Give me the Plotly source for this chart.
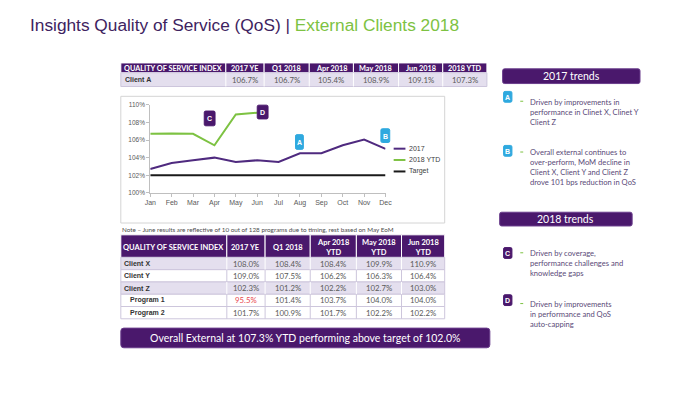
import plotly.graph_objects as go

# ---------------- data ----------------
months = ["Jan", "Feb", "Mar", "Apr", "May", "Jun", "Jul", "Aug", "Sep", "Oct", "Nov", "Dec"]
months_2018 = ["Jan", "Feb", "Mar", "Apr", "May", "Jun"]
qos_2017 = [102.7, 103.4, 103.7, 104.0, 103.5, 103.7, 103.5, 104.5, 104.5, 105.4, 106.05, 105.0]
qos_2018_ytd = [106.7, 106.75, 106.7, 105.4, 108.9, 109.1]
target = [102.0, 102.0, 102.0, 102.0, 102.0, 102.0, 102.0, 102.0, 102.0, 102.0, 102.0, 102.0]
y_ticks = [100, 102, 104, 106, 108, 110]
y_tick_labels = ["100%", "102%", "104%", "106%", "108%", "110%"]

top_headers = ["QUALITY OF SERVICE INDEX", "2017 YE", "Q1 2018", "Apr 2018", "May 2018", "Jun 2018", "2018 YTD"]
top_label = "Client A"
top_values = [106.7, 106.7, 105.4, 108.9, 109.1, 107.3]

low_headers = ["QUALITY OF SERVICE INDEX", "2017 YE", "Q1 2018", "Apr 2018<br>YTD", "May 2018<br>YTD", "Jun 2018<br>YTD"]
low_labels = ["Client X", "Client Y", "Client Z", "Program 1", "Program 2"]
client_x = [108.0, 108.4, 108.4, 109.9, 110.9]
client_y = [109.0, 107.5, 106.2, 106.3, 106.4]
client_z = [102.3, 101.2, 102.2, 102.7, 103.0]
program_1 = [95.5, 101.4, 103.7, 104.0, 104.0]
program_2 = [101.7, 100.9, 101.7, 102.2, 102.2]
low_values = [client_x, client_y, client_z, program_1, program_2]

title_left = "Insights Quality of Service (QoS) | "
title_right = "External Clients 2018"
note_text = "Note \u2013 June results are reflective of 10 out of 128 programs due to timing, rest based on May EoM"
banner_text = "Overall External at 107.3% YTD performing above target of 102.0%"
trend_2017 = "2017 trends"
trend_2018 = "2018 trends"
text_a = "Driven by improvements in<br>performance in Clinet X, Clinet Y<br>Client Z"
text_b = "Overall external continues to<br>over-perform, MoM decline in<br>Client X, Client Y and Client Z<br>drove 101 bps reduction in QoS"
text_c = "Driven by coverage,<br>performance challenges and<br>knowledge gaps"
text_d = "Driven by improvements<br>in performance and QoS<br>auto-capping"

# ---------------- style ----------------
W, H = 700, 393
PURPLE = "#4a186c"
LINE_PURPLE = "#4f2a7f"
GREEN = "#7dc242"
CYAN = "#2fa9df"
LAV = "#e4dfee"
GRID = "#cdc6dc"
TXT = "#595959"
BODY = "#5a4a78"
CAL = "Lato, 'Open Sans', sans-serif"
ARIAL = "'Liberation Sans', Arial, sans-serif"


def px(x):
    return x / W


def py(y):
    return 1 - y / H


shapes = []
annotations = []


def rect(x0, y0, x1, y1, fill, line=None, lw=1):
    shapes.append(dict(type="rect", xref="paper", yref="paper",
                       x0=px(x0), x1=px(x1), y0=py(y1), y1=py(y0),
                       fillcolor=fill, line=dict(color=line or fill, width=lw if line else 0),
                       layer="below"))


def rrect(x0, y0, x1, y1, r, fill, line=None, layer="below"):
    def P(x, y):
        return f"{px(x)},{py(y)}"
    path = (f"M {P(x0 + r, y0)} L {P(x1 - r, y0)} Q {P(x1, y0)} {P(x1, y0 + r)} "
            f"L {P(x1, y1 - r)} Q {P(x1, y1)} {P(x1 - r, y1)} L {P(x0 + r, y1)} "
            f"Q {P(x0, y1)} {P(x0, y1 - r)} L {P(x0, y0 + r)} Q {P(x0, y0)} {P(x0 + r, y0)} Z")
    shapes.append(dict(type="path", xref="paper", yref="paper", path=path,
                       fillcolor=fill, line=dict(color=line or fill, width=1), layer=layer))


def text(x, y, s, size, color, family=CAL, xanchor="center", yanchor="middle", align="center"):
    annotations.append(dict(x=px(x), y=py(y), xref="paper", yref="paper", text=s,
                            showarrow=False, xanchor=xanchor, yanchor=yanchor, align=align,
                            font=dict(size=size, color=color, family=family)))


def hline(x0, x1, y, color, width):
    shapes.append(dict(type="line", xref="paper", yref="paper", x0=px(x0), x1=px(x1),
                       y0=py(y), y1=py(y), line=dict(color=color, width=width)))


def letter_box(x0, y0, x1, y1, letter, fill, layer="above"):
    rrect(x0, y0, x1, y1, 1.5, fill, line=fill, layer=layer)
    text((x0 + x1) / 2, (y0 + y1) / 2 + 0.5, "<b>" + letter + "</b>", 7, "white", family=ARIAL)


# ---------------- title ----------------
text(22, 21.5, f"<span style='color:#3e2360'>{title_left}</span><span style='color:{GREEN}'>{title_right}</span>",
     17.3, "#3e2360", family=ARIAL, xanchor="left")

# ---------------- top table ----------------
top_cols = [117, 224, 263, 309, 354, 400, 445, 490]
for i, h in enumerate(top_headers):
    rect(top_cols[i], 60, top_cols[i + 1], 70, PURPLE, line="white", lw=1)
    text((top_cols[i] + top_cols[i + 1]) / 2, 65.3, "<b>" + h + "</b>", 7.3, "white")
rect(top_cols[0], 70, top_cols[-1], 84, LAV, line=GRID, lw=1)
for c in top_cols[1:-1]:
    shapes.append(dict(type="line", xref="paper", yref="paper", x0=px(c), x1=px(c), y0=py(70), y1=py(84),
                       line=dict(color="white", width=1)))
text(119, 77, "<b>" + top_label + "</b>", 7, "#333333", family=ARIAL, xanchor="left")
for i, v in enumerate(top_values):
    text((top_cols[i + 1] + top_cols[i + 2]) / 2, 77, f"{v:.1f}%", 7.8, TXT)

# ---------------- chart box ----------------
rect(117, 94, 447, 223, "white", line="#d4d4d4", lw=1)

# legend (manual)
legend_items = [("2017", LINE_PURPLE), ("2018 YTD", GREEN), ("Target", "#1a1a1a")]
for k, (name, col) in enumerate(legend_items):
    yy = [147.3, 158.8, 170.5][k]
    hline(395, 407, yy, col, 2)
    text(408.5, yy, name, 7, "#404040", family=ARIAL, xanchor="left")

# annotation boxes on chart
letter_box(202, 109, 213, 124, "C", PURPLE)
letter_box(256, 103, 267, 117, "D", PURPLE)
letter_box(295, 133, 303, 148, "A", CYAN)
letter_box(382, 127, 391, 141, "B", CYAN)

# note
text(116, 229.5, note_text, 6.3, "#4d4d4d", xanchor="left")

# ---------------- lower table ----------------
low_cols = [117, 225, 264, 310, 357, 403, 447]
for i, h in enumerate(low_headers):
    rect(low_cols[i], 235, low_cols[i + 1], 258, PURPLE, line="white", lw=1)
    yy = 248 if "<br>" not in h else 247.5
    text((low_cols[i] + low_cols[i + 1]) / 2, yy, "<b>" + h + "</b>", 7.5, "white")
row_edges = [258, 270.5, 283, 295.5, 308, 320.5]
row_fill = [LAV, "white", LAV, "white", "white"]
for r, lab in enumerate(low_labels):
    y0, y1 = row_edges[r], row_edges[r + 1]
    rect(low_cols[0], y0, low_cols[-1], y1, row_fill[r], line=GRID, lw=1)
    for c in low_cols[1:-1]:
        shapes.append(dict(type="line", xref="paper", yref="paper", x0=px(c), x1=px(c), y0=py(y0), y1=py(y1),
                           line=dict(color=GRID if row_fill[r] == "white" else "white", width=1)))
    indent = 124 if lab.startswith("Program") else 118
    text(indent, (y0 + y1) / 2, "<b>" + lab + "</b>", 7, "#333333", family=ARIAL, xanchor="left")
    for i, v in enumerate(low_values[r]):
        col = "#e8474f" if v < 100 else TXT
        text((low_cols[i + 1] + low_cols[i + 2]) / 2, (y0 + y1) / 2, f"{v:.1f}%", 7.8, col)

# ---------------- bottom banner ----------------
rrect(117, 330, 493, 350, 3, PURPLE, line="#6a3d8c")
text(305, 340.3, banner_text, 10.5, "white")

# ---------------- right panel ----------------
rrect(506, 66, 646, 81, 2, PURPLE, line="#6a3d8c")
text(576, 73.5, trend_2017, 10.5, "white")
rrect(503, 212, 638, 226, 2, PURPLE, line="#6a3d8c")
text(570.5, 219, trend_2018, 10.5, "white")

items = [("A", CYAN, 89, text_a, 109.5, 99),
         ("B", CYAN, 144, text_b, 166.4, 150.7),
         ("C", PURPLE, 248, text_c, 264.0, 253.3),
         ("D", PURPLE, 296, text_d, 315.5, 305)]
for letter, col, by, body, my, fy in items:
    letter_box(507, by, 515.5, by + 11, letter, col)
    hline(524, 527, fy, GREEN, 1)
    text(532, my, body, 7.6, BODY, xanchor="left", align="left")

# ---------------- chart traces ----------------
fig = go.Figure()
fig.add_trace(go.Scatter(x=months, y=target, mode="lines", name="Target",
                         line=dict(color="#1a1a1a", width=2)))
fig.add_trace(go.Scatter(x=months, y=qos_2017, mode="lines", name="2017",
                         line=dict(color=LINE_PURPLE, width=2)))
fig.add_trace(go.Scatter(x=months_2018, y=qos_2018_ytd, mode="lines", name="2018 YTD",
                         line=dict(color=GREEN, width=2)))

fig.update_layout(
    width=W, height=H,
    margin=dict(l=0, r=0, t=0, b=0),
    paper_bgcolor="white", plot_bgcolor="white",
    showlegend=False,
    shapes=shapes, annotations=annotations,
    xaxis=dict(domain=[px(147), px(386.7)], type="category", categoryorder="array", categoryarray=months,
               range=[0, 11], showgrid=False, zeroline=False, showline=True, linecolor="#bfbfbf", linewidth=1,
               ticks="outside", ticklen=3, tickcolor="#bfbfbf",
               tickfont=dict(size=7, color=TXT, family=ARIAL)),
    yaxis=dict(domain=[py(192.3), py(102.6)], range=[100, 110], tickvals=y_ticks, ticktext=y_tick_labels,
               showgrid=False, zeroline=False, showline=True, linecolor="#bfbfbf", linewidth=1,
               ticks="outside", ticklen=3, tickcolor="#bfbfbf",
               tickfont=dict(size=6.5, color=TXT, family=ARIAL)),
)

fig.write_html("out.html", config={"displayModeBar": False},
               post_script="document.body.style.margin='0px';document.body.style.overflow='hidden';")
